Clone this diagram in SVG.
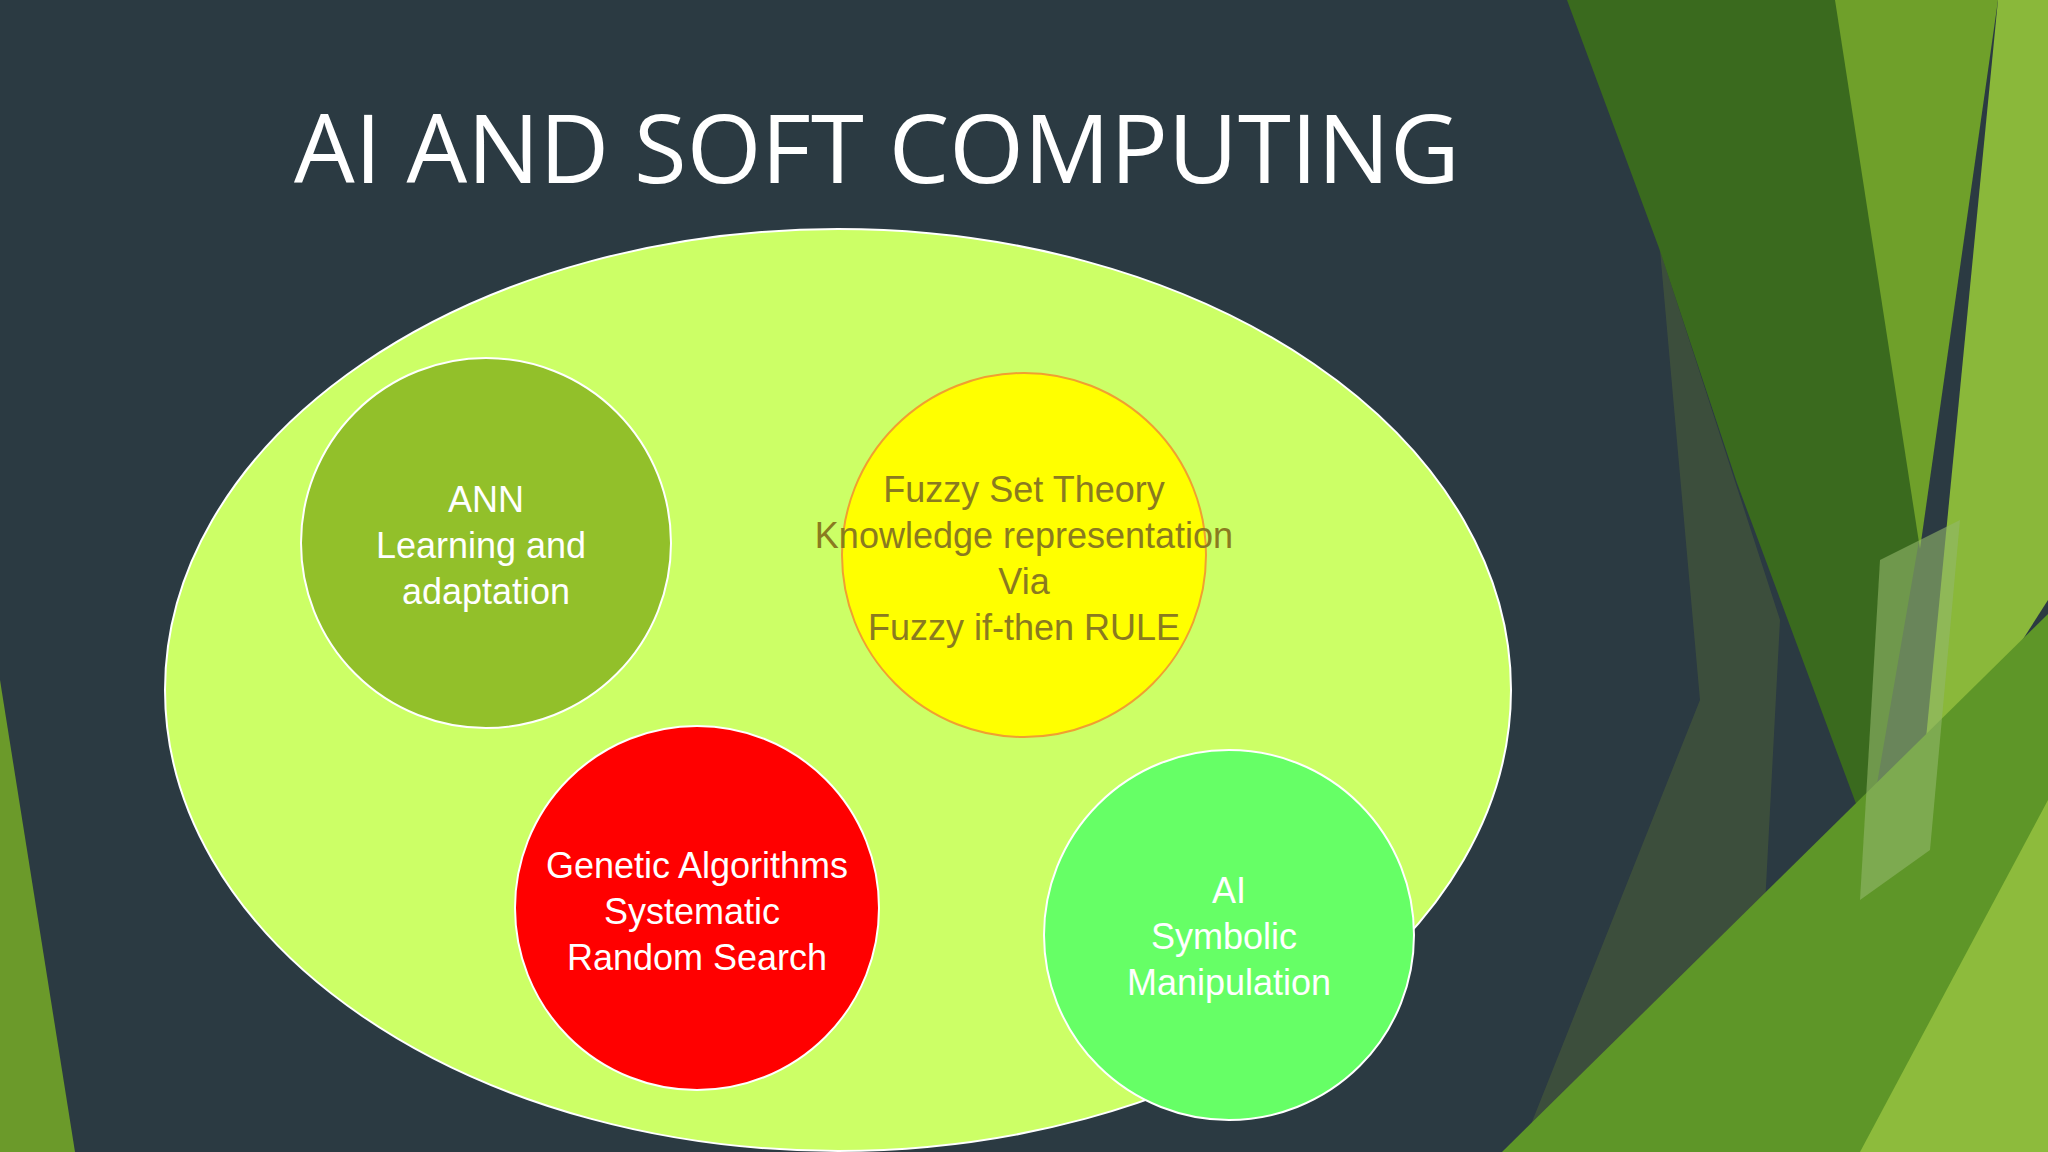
<svg xmlns="http://www.w3.org/2000/svg" width="2048" height="1152" viewBox="0 0 2048 1152">
<style>
.t{font-family:"Liberation Sans",Arial,sans-serif;font-size:36px;text-anchor:middle}
</style>
<rect width="2048" height="1152" fill="#2b3a42"/>
<g id="decor">
<polygon points="1660,250 1780,620 1760,1000 1600,1152 1520,1152 1700,700" fill="#45573a" opacity="0.7"/>
<polygon points="1567,0 1855,0 1920,535 1868,836 1737,483 1659,248" fill="#3a6a1e"/>
<polygon points="1835,0 1998,0 1920,549" fill="#6fa02a"/>
<polygon points="1998,0 2048,0 2048,600 1920,800" fill="#8ab83a"/>
<polygon points="1502,1152 2048,614 2048,1152" fill="#5e9628"/>
<polygon points="1860,1152 2048,800 2048,1152" fill="#8dbb3c"/>
<polygon points="1880,560 1960,520 1930,850 1860,900" fill="#93b86a" opacity="0.6"/>
<polygon points="0,680 75,1152 0,1152" fill="#6b9a2a"/>
</g>
<text x="294" y="183" font-family="'Open Sans',sans-serif" font-size="96" fill="#ffffff">AI AND SOFT COMPUTING</text>
<g id="outer"><ellipse cx="838" cy="690" rx="673" ry="461" fill="#ccff66" stroke="#ffffff" stroke-width="2"/></g>
<g id="ann">
<circle cx="486" cy="543" r="185" fill="#92c02a" stroke="#ffffff" stroke-width="2"/>
<text class="t" fill="#ffffff" x="486"><tspan x="486" y="512">ANN</tspan><tspan x="481" y="558">Learning and</tspan><tspan x="486" y="604">adaptation</tspan></text>
</g>
<g id="fuzzy">
<circle cx="1024" cy="555" r="182" fill="#ffff00" stroke="#f0a030" stroke-width="2"/>
<text class="t" fill="#8a7a20"><tspan x="1024" y="502">Fuzzy Set Theory</tspan><tspan x="1024" y="548">Knowledge representation</tspan><tspan x="1024" y="594">Via</tspan><tspan x="1024" y="640">Fuzzy if-then RULE</tspan></text>
</g>
<g id="genetic">
<circle cx="697" cy="908" r="182" fill="#ff0000" stroke="#ffffff" stroke-width="2"/>
<text class="t" fill="#ffffff"><tspan x="697" y="878">Genetic Algorithms</tspan><tspan x="692" y="924">Systematic</tspan><tspan x="697" y="970">Random Search</tspan></text>
</g>
<g id="ai">
<circle cx="1229" cy="935" r="185" fill="#66ff66" stroke="#ffffff" stroke-width="2"/>
<text class="t" fill="#ffffff"><tspan x="1229" y="903">AI</tspan><tspan x="1224" y="949">Symbolic</tspan><tspan x="1229" y="995">Manipulation</tspan></text>
</g>
<g id="connectors"/>
</svg>
